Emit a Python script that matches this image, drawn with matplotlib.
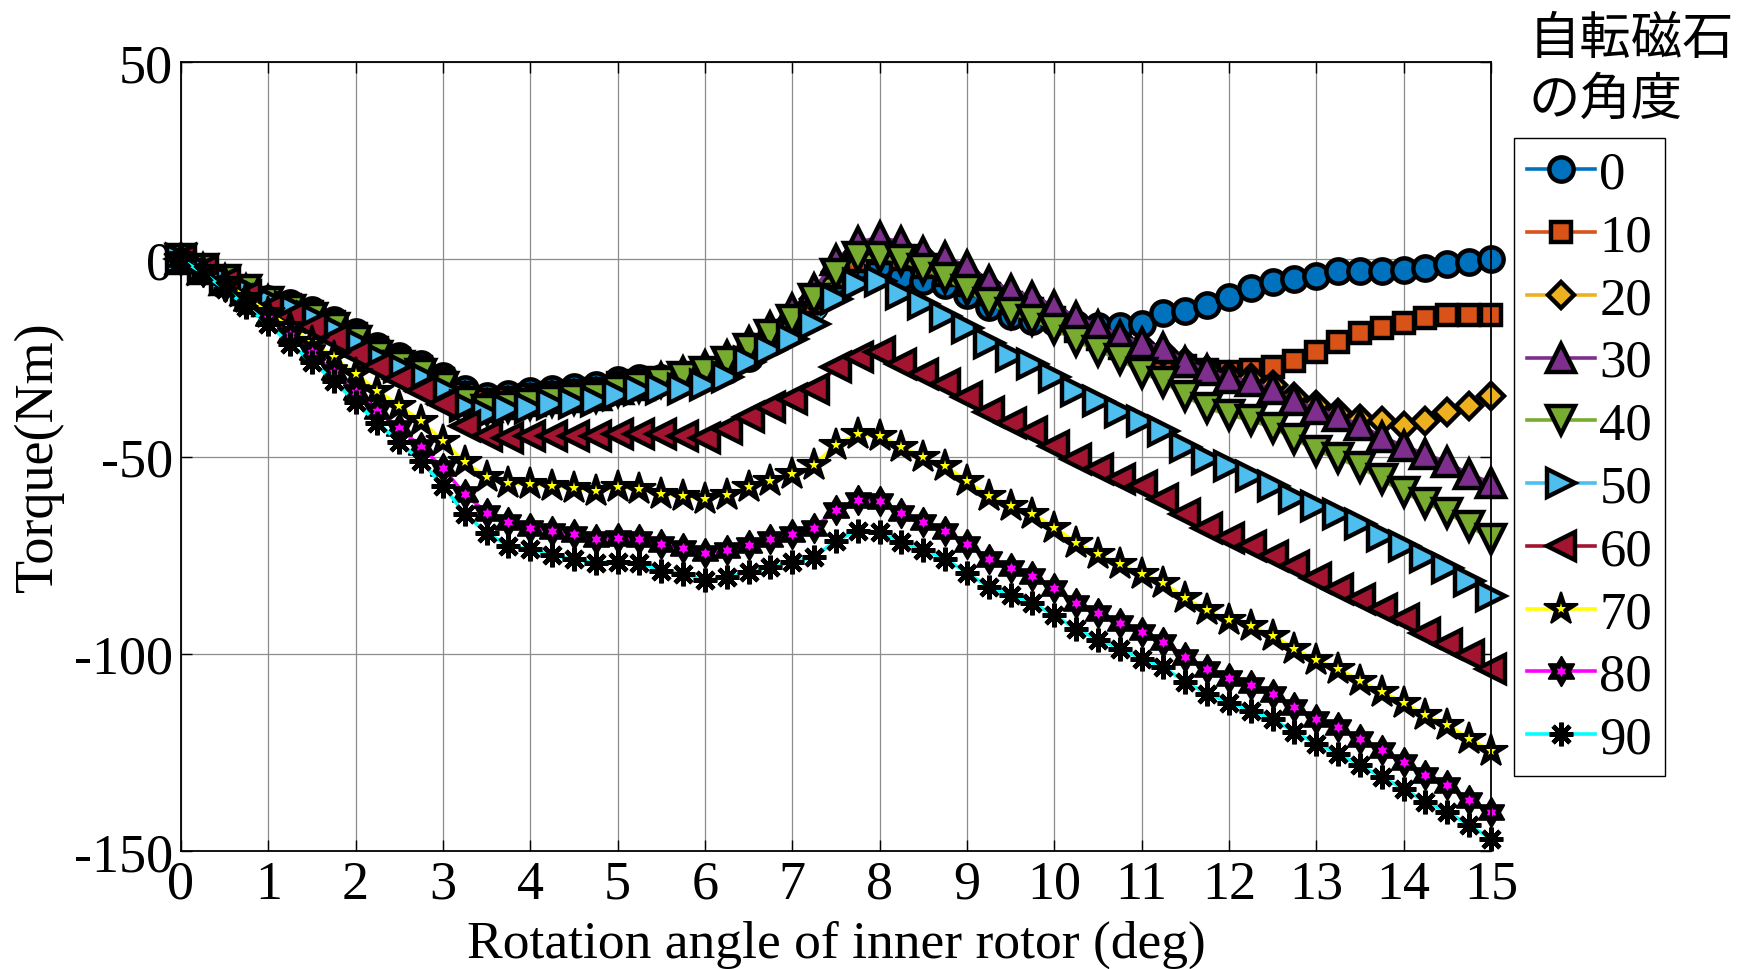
import matplotlib
matplotlib.use("Agg")
import matplotlib.pyplot as plt
from matplotlib.path import Path
from matplotlib.legend_handler import HandlerTuple
import numpy as np

plt.rcParams['font.family'] = ['Liberation Serif', 'DejaVu Serif']
plt.rcParams['axes.unicode_minus'] = False

angle = [0, 0.25, 0.5, 0.75, 1, 1.25, 1.5, 1.75, 2, 2.25, 2.5, 2.75,
         3, 3.25, 3.5, 3.75, 4, 4.25, 4.5, 4.75, 5, 5.25, 5.5, 5.75,
         6, 6.25, 6.5, 6.75, 7, 7.25, 7.5, 7.75, 8, 8.25, 8.5, 8.75,
         9, 9.25, 9.5, 9.75, 10, 10.25, 10.5, 10.75, 11, 11.25, 11.5, 11.75,
         12, 12.25, 12.5, 12.75, 13, 13.25, 13.5, 13.75, 14, 14.25, 14.5, 14.75, 15]

t0 = [0, -2.5, -5, -7.5, -10, -11.2, -12.9, -15.5, -18.4, -22, -24.6, -26.6,
      -29.6, -32.9, -34.6, -34.2, -33.4, -32.9, -32.5, -31.9, -30.5, -30, -30, -29.5,
      -29, -28, -25, -21, -17, -12, -5.5, -2, -1.5, -4.5, -5.5, -6.5,
      -9, -12.2, -14.4, -15.6, -16, -16.5, -17, -17, -16.4, -13.5, -13, -11.6,
      -9.6, -7.4, -5.8, -5.0, -4.3, -2.9, -2.9, -2.9, -2.6, -2.3, -1.2, -0.8, 0.1]
t10 = [0, -2.5, -5, -7.6, -10.2, -11.6, -13.4, -16, -19, -22.6, -25.2, -27.3,
       -30.4, -33.8, -35.6, -35.2, -34.4, -33.8, -33.4, -32.8, -31.4, -30.8, -30.6, -30,
       -29.2, -27.6, -24.2, -20.2, -16.2, -11, -4.5, -0.5, 1.5, 0, -2, -4,
       -6.5, -8.9, -11, -12.7, -14.8, -18.2, -20.3, -22.4, -24.1, -25.5, -27, -28,
       -28.5, -28, -27.2, -25.9, -23.4, -20.9, -18.8, -17.5, -16.2, -15, -14.1, -14.1, -14.1]
t20 = [0, -2.5, -5.1, -7.7, -10.4, -12, -13.9, -16.5, -19.6, -23.2, -25.8, -28,
       -31.2, -34.7, -36.5, -36, -35.2, -34.5, -34.1, -33.6, -32.2, -31.5, -31.2, -30.4,
       -29.4, -27.2, -23.6, -19.6, -15.4, -10, -3.2, 1.5, 3.5, 2.5, 0.5, -1.5,
       -4, -7, -9.5, -11.2, -13.5, -16.5, -18.5, -20.5, -22, -23.5, -26, -28,
       -29.5, -30, -32, -35, -37, -39, -40.5, -41, -42.2, -40.9, -38.8, -37.1, -34.6]
t30 = [0, -2.5, -5.2, -7.8, -10.6, -12.4, -14.4, -17, -20.2, -23.8, -26.4, -28.6,
       -31.8, -35.5, -37.4, -36.8, -36, -35.2, -34.8, -34.3, -32.8, -32, -30.2, -28.6,
       -27, -24.4, -21, -17.2, -12.6, -7.5, -0.3, 4.3, 5.6, 4.3, 1.8, 0.5,
       -1.7, -5.4, -7.8, -9.5, -11.8, -14.6, -16.8, -19.4, -21.3, -22.5, -26, -28.2,
       -30, -30.9, -33, -35.8, -37.9, -39.8, -42, -45, -47.3, -49.4, -51.5, -54.5, -56.6]
t40 = [0, -2.5, -5.3, -7.9, -10.8, -12.8, -14.9, -17.5, -20.8, -24.4, -27, -29.2,
       -32.4, -36.3, -38.3, -37.4, -36.8, -36, -35.5, -35, -33.5, -32.5, -31, -29.9,
       -28.6, -26.1, -22.7, -19.3, -15.5, -10, -3.7, 0.5, 0.5, -0.3, -2.4, -4.8,
       -7.9, -11, -13.6, -15.3, -17.7, -20.7, -23.2, -25.3, -28.8, -31, -34.7, -37.7,
       -39.5, -40.8, -42.7, -45.5, -48.5, -50.5, -52.7, -55.8, -59.1, -61.7, -64.2, -67.6, -71]
t50 = [0, -2.5, -5, -7.8, -10.4, -12.1, -14.6, -17.6, -21, -24.9, -27.4, -29.6,
       -32.9, -37.2, -39.3, -38, -37.6, -36.7, -36.5, -36, -34.3, -33.2, -33, -33,
       -32, -29.9, -26.1, -23.1, -20.2, -16.4, -10, -6.3, -5.4, -8.8, -11.3, -14.3,
       -17.5, -21.3, -24.4, -26.6, -29.9, -33.3, -35.9, -38.8, -40.9, -43.5, -47.7, -50.7,
       -52.4, -54.9, -57.4, -60.4, -62.5, -64.6, -67.2, -70.1, -72.7, -75.6, -78.2, -81.6, -85.4]
t60 = [0, -2.6, -5.8, -9.2, -12.5, -14.6, -17.1, -20.3, -23.9, -27.4, -30.4, -33.4,
       -36.7, -42.2, -44.8, -45.2, -44.8, -44.8, -44.8, -44.8, -44.3, -44.3, -44.3, -44.8,
       -45.2, -43, -40, -37.5, -35.4, -32.9, -27.4, -24.8, -23.6, -26.5, -29.1, -31.6,
       -35, -38.8, -41.4, -43.9, -47.3, -50.7, -53.2, -55.8, -57.4, -60.8, -64.6, -68,
       -70.6, -72.7, -75.2, -77.7, -80.7, -83.7, -86.2, -88.7, -91.3, -94.7, -97.5, -100.4, -103.8]
t70 = [0, -2.8, -5.8, -9.8, -13.5, -17.3, -21, -24.9, -29.1, -33.3, -37.1, -41,
       -46, -51.5, -55.1, -56.8, -57, -57.4, -57.9, -58.7, -57.8, -58.2, -59.5, -59.9,
       -60.7, -59.7, -57.8, -56.1, -54.4, -52.1, -47, -44.4, -44.7, -47.6, -50.2, -52.4,
       -56.3, -59.9, -62.5, -64.6, -68, -71.8, -74.8, -77.3, -79.8, -82, -85.9, -89,
       -91.5, -93, -95.4, -98.7, -101.7, -103.8, -106.9, -109.7, -112.4, -115.6, -118, -121.5, -124.7]
t80 = [0, -3.2, -7, -11, -15, -19.2, -23.6, -28.7, -33.6, -38.4, -42.9, -47.5,
       -53, -59.6, -64.2, -66.6, -68, -68.9, -69.7, -71, -70.7, -70.9, -72.3, -73.3,
       -74.5, -73.6, -72.4, -71, -69.7, -68, -63.6, -61, -61.4, -64.2, -66.6, -68.9,
       -72.2, -75.9, -78.2, -80.2, -83.4, -87.1, -89.7, -92.1, -94.5, -96.9, -100.7, -103.8,
       -106.2, -107.9, -110.1, -113.5, -116.5, -118.6, -121.7, -124.5, -127.5, -130.7, -133.2, -137, -140.1]
t90 = [0, -3.5, -7.5, -12, -16.5, -21.5, -26.1, -30.8, -36.3, -41.4, -46.4, -51.2,
       -57.4, -64.6, -69.3, -72.7, -73.4, -75, -76.1, -76.9, -76.8, -77, -78.9, -79.7,
       -81.4, -80.6, -79.3, -78, -76.8, -75.5, -71.3, -68.8, -69.2, -71.7, -73.8, -75.9,
       -79.5, -83.1, -85.2, -87.1, -90.3, -93.7, -96.4, -98.7, -101.3, -103.4, -107.2, -110.1,
       -112.4, -114.4, -116.6, -119.8, -122.8, -125.3, -128.3, -131.3, -134.2, -137.6, -140.1, -143.5, -146.9]

labels = ['0', '10', '20', '30', '40', '50', '60', '70', '80', '90']
series = [t0, t10, t20, t30, t40, t50, t60, t70, t80, t90]
colors = ['#0072BD', '#D95319', '#EDB120', '#7E2F8E', '#77AC30',
          '#4DBEEE', '#A2142F', '#FFFF00', '#FF00FF', '#00FFFF']

# hexagram marker
ang = np.deg2rad(90 + np.arange(12) * 30)
rad = np.where(np.arange(12) % 2 == 0, 1.0, 0.577)
hexv = np.column_stack([rad * np.cos(ang), rad * np.sin(ang)])
hexv = np.vstack([hexv, hexv[:1]])
hexagram = Path(hexv, closed=True)

markers = ['o', 's', 'D', '^', 'v', '>', '<', '*', hexagram, (8, 2, 0)]
msizes = [17.5, 15, 13.5, 19.5, 19.5, 19.5, 19.5, 25, 21, 17]
mews = [3.2, 3.2, 3.2, 3.2, 3.2, 3.2, 3.2, 1.5, 1.5, 3.3]
# small coloured centre for the star-type markers (drawn on top of black star)
centre_ms = {7: 8, 8: 8}

fig = plt.figure(figsize=(17.4, 9.7), dpi=100)
ax = fig.add_axes([181 / 1740, 1 - 852 / 970, (1491 - 181) / 1740, (852 - 63) / 970])

handles = []
for i, (ys, lab) in enumerate(zip(series, labels)):
    if i in centre_ms or i == 9:
        mfc = 'black'
    else:
        mfc = colors[i]
    h, = ax.plot(angle, ys, color=colors[i], linewidth=2.6,
                 marker=markers[i], markersize=msizes[i],
                 markerfacecolor=mfc, markeredgecolor='black',
                 markeredgewidth=mews[i], clip_on=False)
    if i in centre_ms:
        c, = ax.plot(angle, ys, linestyle='none', marker=markers[i],
                     markersize=centre_ms[i], markerfacecolor=colors[i],
                     markeredgewidth=0, clip_on=False)
        handles.append((h, c))
    else:
        handles.append(h)

ax.set_xlim(0, 15)
ax.set_ylim(-150, 50)
ax.set_xticks(range(0, 16))
ax.set_yticks([-150, -100, -50, 0, 50])
ax.grid(True, color='#8c8c8c', linewidth=0.9)
ax.set_axisbelow(True)
ax.tick_params(direction='in', length=8, width=1.0, labelsize=39,
               top=True, right=True, pad=6)
for sp in ax.spines.values():
    sp.set_linewidth(1.3)

ax.set_xlabel('Rotation angle of inner rotor (deg)', fontsize=38.5, labelpad=7)
ax.set_ylabel('Torque(Nm)', fontsize=39, labelpad=7)

leg = fig.legend(handles=handles, labels=labels, loc='upper left',
                 bbox_to_anchor=(1514 / 1740, 1 - 139 / 970),
                 handler_map={tuple: HandlerTuple(ndivide=1, pad=0)},
                 fontsize=38, frameon=True, fancybox=False, framealpha=1,
                 edgecolor='black', borderpad=0.24, labelspacing=0.28,
                 handlelength=1.3, handletextpad=0.08, borderaxespad=0)
leg.get_frame().set_linewidth(1.0)

fig.text(1529 / 1740, 1 - 39 / 970, '自転磁石', fontsize=37,
         family=['Noto Sans CJK JP', 'DejaVu Sans'], ha='left', va='center')
fig.text(1529 / 1740, 1 - 100 / 970, 'の角度', fontsize=37,
         family=['Noto Sans CJK JP', 'DejaVu Sans'], ha='left', va='center')

fig.savefig('out.png', dpi=100)
